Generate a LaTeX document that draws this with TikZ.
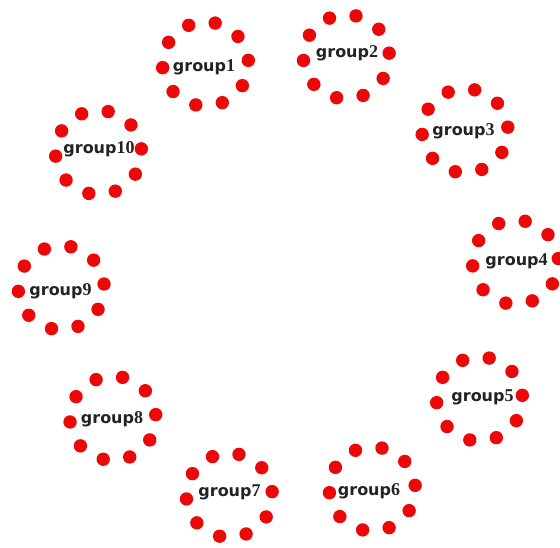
\documentclass[tikz,border=0pt]{standalone}
\usepackage{fontspec}
\setmainfont{DejaVu Sans}
\newfontfamily\digitfont{Liberation Serif}
\definecolor{dotred}{RGB}{236,8,8}
\definecolor{txtgray}{RGB}{35,35,35}
\begin{document}
\begin{tikzpicture}[x=1pt,y=-1pt,
  dot/.style={circle, fill=dotred, draw=none, inner sep=0pt, minimum size=13.4pt},
  lbl/.style={inner sep=0pt, text=txtgray, font=\fontsize{16}{16}\selectfont\bfseries}]
\useasboundingbox[fill=white] (0,0) rectangle (560,548);
\foreach \i/\cx/\cy/\lx/\ly in {1/205.5/64/204/67, 2/346.3/56.8/347/53, 3/465/130.8/463.5/131,
  4/515.5/262.2/516.5/261, 5/479.5/399/482.5/397, 6/372.3/489/369/491,
  7/229.3/495.3/229.5/492.5, 8/112.9/418.3/112/419, 9/61.2/287.7/60.5/291, 10/98.5/152.5/99/149}{
  \coordinate (c\i) at (\cx,\cy);
  \foreach \k in {0,...,9}{
    \pgfmathsetmacro{\ang}{5+36*\k}
    \node[dot] (g\i-\k) at ({\cx+43*cos(\ang)},{\cy-42*sin(\ang)}) {};
  }
  \node[lbl] (l\i) at (\lx,\ly) {group{\digitfont\fontsize{18}{18}\selectfont\i}};
}
\end{tikzpicture}
\end{document}
